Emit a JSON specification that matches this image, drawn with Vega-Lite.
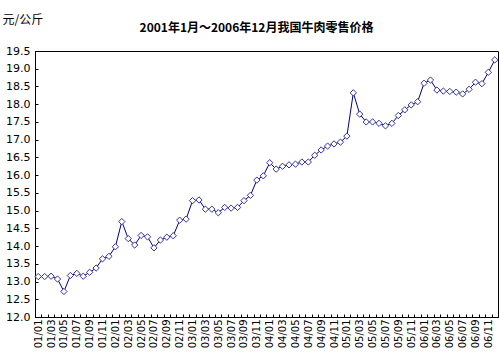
{
  "$schema": "https://vega.github.io/schema/vega-lite/v6.json",
  "width": 463,
  "height": 266,
  "autosize": {"type": "none"},
  "padding": {"left": 35, "top": 51, "right": 2, "bottom": 46},
  "background": "white",
  "title": {
    "text": "2001年1月～2006年12月我国牛肉零售价格",
    "font": "Noto Sans CJK SC",
    "fontSize": 12,
    "fontWeight": "bold",
    "color": "black",
    "anchor": "middle",
    "offset": -22,
    "dx": -10
  },
  "config": {
    "view": {"stroke": "black", "strokeWidth": 1},
    "axis": {"grid": false, "domainColor": "black", "tickColor": "black", "labelColor": "black", "labelFont": "DejaVu Sans", "labelFontSize": 10}
  },
  "data": {
    "values": [
      {"m": "01/01", "v": 13.14}, {"m": "01/02", "v": 13.14}, {"m": "01/03", "v": 13.15}, {"m": "01/04", "v": 13.07},
      {"m": "01/05", "v": 12.72}, {"m": "01/06", "v": 13.17}, {"m": "01/07", "v": 13.23}, {"m": "01/08", "v": 13.15},
      {"m": "01/09", "v": 13.26}, {"m": "01/10", "v": 13.38}, {"m": "01/11", "v": 13.64}, {"m": "01/12", "v": 13.71},
      {"m": "02/01", "v": 13.98}, {"m": "02/02", "v": 14.69}, {"m": "02/03", "v": 14.21}, {"m": "02/04", "v": 14.03},
      {"m": "02/05", "v": 14.3}, {"m": "02/06", "v": 14.26}, {"m": "02/07", "v": 13.95}, {"m": "02/08", "v": 14.17},
      {"m": "02/09", "v": 14.25}, {"m": "02/10", "v": 14.29}, {"m": "02/11", "v": 14.73}, {"m": "02/12", "v": 14.76},
      {"m": "03/01", "v": 15.28}, {"m": "03/02", "v": 15.3}, {"m": "03/03", "v": 15.04}, {"m": "03/04", "v": 15.04},
      {"m": "03/05", "v": 14.94}, {"m": "03/06", "v": 15.09}, {"m": "03/07", "v": 15.07}, {"m": "03/08", "v": 15.09},
      {"m": "03/09", "v": 15.28}, {"m": "03/10", "v": 15.43}, {"m": "03/11", "v": 15.86}, {"m": "03/12", "v": 15.98},
      {"m": "04/01", "v": 16.35}, {"m": "04/02", "v": 16.17}, {"m": "04/03", "v": 16.25}, {"m": "04/04", "v": 16.29},
      {"m": "04/05", "v": 16.31}, {"m": "04/06", "v": 16.37}, {"m": "04/07", "v": 16.37}, {"m": "04/08", "v": 16.56},
      {"m": "04/09", "v": 16.71}, {"m": "04/10", "v": 16.82}, {"m": "04/11", "v": 16.88}, {"m": "04/12", "v": 16.93},
      {"m": "05/01", "v": 17.1}, {"m": "05/02", "v": 18.32}, {"m": "05/03", "v": 17.72}, {"m": "05/04", "v": 17.5},
      {"m": "05/05", "v": 17.5}, {"m": "05/06", "v": 17.46}, {"m": "05/07", "v": 17.39}, {"m": "05/08", "v": 17.46},
      {"m": "05/09", "v": 17.68}, {"m": "05/10", "v": 17.84}, {"m": "05/11", "v": 17.98}, {"m": "05/12", "v": 18.07},
      {"m": "06/01", "v": 18.59}, {"m": "06/02", "v": 18.68}, {"m": "06/03", "v": 18.4}, {"m": "06/04", "v": 18.37},
      {"m": "06/05", "v": 18.36}, {"m": "06/06", "v": 18.34}, {"m": "06/07", "v": 18.29}, {"m": "06/08", "v": 18.42},
      {"m": "06/09", "v": 18.62}, {"m": "06/10", "v": 18.58}, {"m": "06/11", "v": 18.9}, {"m": "06/12", "v": 19.25}
    ]
  },
  "mark": {
    "type": "line",
    "color": "#000080",
    "strokeWidth": 1,
    "point": {"shape": "diamond", "filled": true, "fill": "white", "stroke": "#3333a0", "strokeWidth": 1, "size": 40, "opacity": 1}
  },
  "encoding": {
    "x": {
      "field": "m",
      "type": "ordinal",
      "sort": null,
      "scale": {"type": "band", "paddingInner": 0, "paddingOuter": 0},
      "axis": {
        "title": null,
        "labelAngle": 270,
        "labelAlign": "right",
        "labelBaseline": "middle",
        "labelOverlap": false,
        "labelPadding": 5,
        "tickBand": "extent",
        "tickSize": -3,
        "labelExpr": "parseInt(substring(datum.label, 3, 5)) % 2 == 1 ? datum.label : ''"
      }
    },
    "y": {
      "field": "v",
      "type": "quantitative",
      "scale": {"domain": [12, 19.5], "nice": false, "zero": false},
      "axis": {
        "values": [12, 12.5, 13, 13.5, 14, 14.5, 15, 15.5, 16, 16.5, 17, 17.5, 18, 18.5, 19, 19.5],
        "format": ".1f",
        "tickSize": -3,
        "labelPadding": 8,
        "labelFontSize": 11,
        "title": "元/公斤",
        "titleFont": "Noto Sans CJK SC",
        "titleFontSize": 12,
        "titleFontWeight": "normal",
        "titleAngle": 0,
        "titleAlign": "left",
        "titleBaseline": "middle",
        "titleX": -33,
        "titleY": -32,
        "titleColor": "black"
      }
    }
  }
}
